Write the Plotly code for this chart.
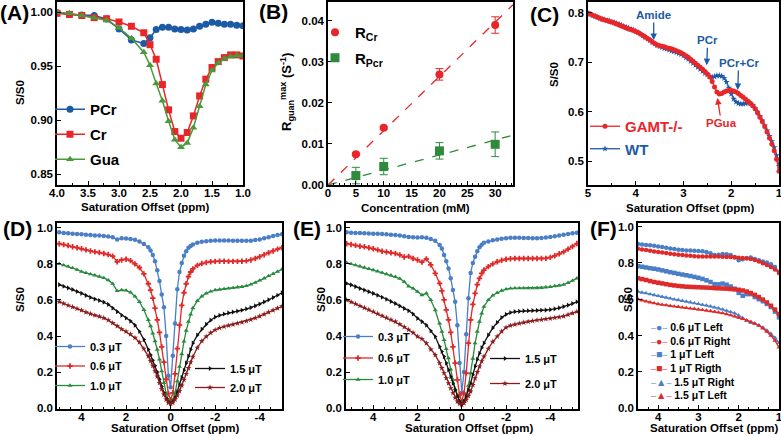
import plotly.graph_objects as go

W, H = 781, 436
FONT = "Arial, Liberation Sans, Helvetica, sans-serif"


def px(x):
    return x / W


def py(y):
    return 1 - y / H


# ---------------- colours ----------------
BLUE_DK = "#1c5aa6"
RED = "#e8262a"
GREEN_A = "#4a9a3a"
GREEN_B = "#2e8b3e"
BLUE_LT = "#4a7fc6"
RED_D = "#e02a2a"
GREEN_D = "#2a8a3e"
BLACK = "#111111"
DKRED = "#8b1c1c"

# ---------------- Panel A ----------------
a_x = [4.0, 3.8, 3.6, 3.4, 3.2, 3.0, 2.8, 2.6, 2.5, 2.4, 2.3, 2.2, 2.1, 2.0, 1.9, 1.8, 1.7, 1.6, 1.5, 1.4, 1.3, 1.2, 1.1, 1.0]
a_pcr = [0.9995, 0.998, 0.9975, 0.997, 0.9938, 0.9846, 0.9744, 0.971, 0.9765, 0.984, 0.986, 0.986, 0.9846, 0.984, 0.9836, 0.9846, 0.987, 0.989, 0.9907, 0.9898, 0.989, 0.989, 0.988, 0.9875]
a_cr = [0.999, 0.998, 0.997, 0.995, 0.994, 0.991, 0.987, 0.981, 0.970, 0.9565, 0.933, 0.9096, 0.8895, 0.8833, 0.8886, 0.904, 0.9225, 0.938, 0.9488, 0.9543, 0.958, 0.9605, 0.9605, 0.9595]
a_gua = [1.0, 0.999, 0.997, 0.995, 0.9925, 0.9855, 0.976, 0.963, 0.951, 0.934, 0.918, 0.899, 0.882, 0.875, 0.879, 0.893, 0.913, 0.933, 0.946, 0.953, 0.957, 0.959, 0.960, 0.960]

# ---------------- Panel B ----------------
b_conc = [5, 10, 20, 30]
b_rcr = [0.0075, 0.0139, 0.0269, 0.0389]
b_rcr_err = [0.0003, 0.0003, 0.0014, 0.0020]
b_rpcr = [0.0023, 0.0045, 0.0083, 0.0099]
b_rpcr_err = [0.0020, 0.0020, 0.0020, 0.0030]
b_fit_x = [0, 33.2]

# ---------------- Panel C ----------------
c_x = [5.0, 4.95, 4.9, 4.85, 4.8, 4.75, 4.7, 4.65, 4.6, 4.55, 4.5, 4.45, 4.4, 4.35, 4.3, 4.25, 4.2, 4.15, 4.1, 4.05,
       4.0, 3.95, 3.9, 3.85, 3.8, 3.75, 3.7, 3.65, 3.6, 3.55, 3.5, 3.45, 3.4, 3.35, 3.3, 3.25, 3.2, 3.15, 3.1, 3.05,
       3.0, 2.95, 2.9, 2.85, 2.8, 2.75, 2.7, 2.65, 2.6, 2.55, 2.5, 2.45, 2.4, 2.35, 2.3, 2.25, 2.2, 2.15, 2.1, 2.05,
       2.0, 1.95, 1.9, 1.85, 1.8, 1.75, 1.7, 1.65, 1.6, 1.55, 1.5, 1.45, 1.4, 1.35, 1.3, 1.25, 1.2, 1.15, 1.1, 1.05, 1.0]
c_gamt = [0.799, 0.797, 0.795, 0.793, 0.791, 0.789, 0.787, 0.785, 0.784, 0.782, 0.781, 0.779, 0.777, 0.775, 0.773, 0.771, 0.769, 0.767, 0.766, 0.764,
          0.762, 0.760, 0.757, 0.754, 0.751, 0.748, 0.745, 0.741, 0.738, 0.735, 0.733, 0.732, 0.731, 0.729, 0.728, 0.727, 0.725, 0.723, 0.721, 0.719,
          0.716, 0.713, 0.710, 0.706, 0.702, 0.698, 0.694, 0.690, 0.686, 0.681, 0.676, 0.670, 0.661, 0.650, 0.640, 0.636, 0.637, 0.640, 0.642, 0.643,
          0.643, 0.642, 0.640, 0.637, 0.633, 0.629, 0.625, 0.621, 0.617, 0.612, 0.606, 0.598, 0.589, 0.580, 0.570, 0.559, 0.547, 0.535, 0.521, 0.504, 0.480]
c_wt = [0.799, 0.797, 0.795, 0.793, 0.791, 0.789, 0.787, 0.786, 0.784, 0.783, 0.781, 0.780, 0.778, 0.777, 0.775, 0.773, 0.771, 0.769, 0.767, 0.765,
        0.763, 0.760, 0.757, 0.754, 0.750, 0.747, 0.744, 0.740, 0.737, 0.734, 0.732, 0.730, 0.728, 0.727, 0.725, 0.723, 0.722, 0.720, 0.718, 0.716,
        0.713, 0.709, 0.706, 0.702, 0.698, 0.694, 0.690, 0.686, 0.682, 0.678, 0.675, 0.672, 0.670, 0.671, 0.673, 0.673, 0.672, 0.668, 0.660, 0.648,
        0.636, 0.626, 0.620, 0.617, 0.616, 0.616, 0.617, 0.618, 0.617, 0.613, 0.607, 0.600, 0.591, 0.582, 0.572, 0.562, 0.551, 0.540, 0.528, 0.512, 0.490]

# ---------------- Panel D ----------------
d_x = [5.0, 4.8, 4.6, 4.4, 4.2, 4.0, 3.8, 3.6, 3.4, 3.2, 3.0, 2.8, 2.6, 2.4, 2.2, 2.0, 1.8, 1.6, 1.4, 1.2,
       1.0, 0.9, 0.8, 0.7, 0.6, 0.5, 0.4, 0.3, 0.2, 0.1, 0.0, -0.1, -0.2, -0.3, -0.4, -0.5, -0.6, -0.7, -0.8, -0.9, -1.0,
       -1.2, -1.4, -1.6, -1.8, -2.0, -2.2, -2.4, -2.6, -2.8, -3.0, -3.2, -3.4, -3.6, -3.8, -4.0, -4.2, -4.4, -4.6, -4.8, -5.0]
d_03 = [0.975, 0.972, 0.970, 0.968, 0.966, 0.965, 0.962, 0.960, 0.958, 0.958, 0.955, 0.952, 0.948, 0.935, 0.942, 0.941, 0.938, 0.934, 0.925, 0.910,
        0.893, 0.875, 0.850, 0.815, 0.765, 0.705, 0.630, 0.560, 0.400, 0.180, 0.115, 0.290, 0.470, 0.660, 0.755, 0.805, 0.845, 0.870, 0.890, 0.900, 0.908,
        0.918, 0.923, 0.926, 0.928, 0.930, 0.930, 0.930, 0.930, 0.929, 0.929, 0.928, 0.928, 0.929, 0.932, 0.936, 0.942, 0.948, 0.955, 0.960, 0.965]
d_06 = [0.912, 0.907, 0.902, 0.895, 0.890, 0.884, 0.878, 0.872, 0.867, 0.863, 0.858, 0.852, 0.843, 0.812, 0.822, 0.826, 0.818, 0.800, 0.780, 0.745,
        0.690, 0.655, 0.610, 0.555, 0.490, 0.420, 0.340, 0.255, 0.160, 0.080, 0.045, 0.085, 0.190, 0.330, 0.460, 0.570, 0.640, 0.690, 0.730, 0.755, 0.772,
        0.792, 0.802, 0.808, 0.812, 0.814, 0.815, 0.815, 0.814, 0.814, 0.814, 0.815, 0.817, 0.822, 0.830, 0.840, 0.851, 0.862, 0.872, 0.882, 0.890]
d_10 = [0.800, 0.793, 0.786, 0.778, 0.768, 0.757, 0.750, 0.743, 0.737, 0.730, 0.722, 0.710, 0.690, 0.650, 0.655, 0.653, 0.642, 0.620, 0.590, 0.545,
        0.490, 0.455, 0.415, 0.372, 0.325, 0.270, 0.205, 0.140, 0.080, 0.045, 0.030, 0.045, 0.085, 0.150, 0.230, 0.300, 0.370, 0.430, 0.480, 0.520, 0.555,
        0.595, 0.620, 0.637, 0.647, 0.655, 0.658, 0.661, 0.664, 0.667, 0.670, 0.673, 0.678, 0.686, 0.696, 0.708, 0.720, 0.733, 0.745, 0.757, 0.770]
d_15 = [0.685, 0.676, 0.667, 0.658, 0.647, 0.637, 0.625, 0.614, 0.605, 0.597, 0.588, 0.575, 0.555, 0.535, 0.515, 0.500, 0.483, 0.460, 0.425, 0.380,
        0.325, 0.295, 0.265, 0.235, 0.200, 0.160, 0.120, 0.085, 0.055, 0.035, 0.028, 0.035, 0.055, 0.090, 0.130, 0.170, 0.210, 0.250, 0.288, 0.325, 0.360,
        0.405, 0.438, 0.465, 0.488, 0.505, 0.515, 0.522, 0.528, 0.533, 0.538, 0.543, 0.550, 0.558, 0.567, 0.577, 0.589, 0.601, 0.613, 0.626, 0.640]
d_20 = [0.590, 0.580, 0.570, 0.561, 0.552, 0.543, 0.532, 0.523, 0.515, 0.508, 0.500, 0.488, 0.472, 0.455, 0.438, 0.425, 0.410, 0.390, 0.365, 0.330,
        0.288, 0.262, 0.235, 0.205, 0.175, 0.140, 0.105, 0.075, 0.048, 0.030, 0.024, 0.030, 0.048, 0.070, 0.095, 0.125, 0.157, 0.190, 0.222, 0.255, 0.285,
        0.335, 0.372, 0.397, 0.418, 0.434, 0.445, 0.452, 0.458, 0.464, 0.470, 0.476, 0.483, 0.491, 0.500, 0.510, 0.521, 0.532, 0.543, 0.554, 0.565]

# ---------------- Panel E ----------------
e_x = [5.2, 5.0, 4.8, 4.6, 4.4, 4.2, 4.0, 3.8, 3.6, 3.4, 3.2, 3.0, 2.8, 2.6, 2.4, 2.2, 2.0, 1.8, 1.6, 1.4, 1.2,
       1.0, 0.9, 0.8, 0.7, 0.6, 0.5, 0.4, 0.3, 0.2, 0.1, 0.0, -0.1, -0.2, -0.3, -0.4, -0.5, -0.6, -0.7, -0.8, -0.9, -1.0,
       -1.2, -1.4, -1.6, -1.8, -2.0, -2.2, -2.4, -2.6, -2.8, -3.0, -3.2, -3.4, -3.6, -3.8, -4.0, -4.2, -4.4, -4.6, -4.8, -5.0, -5.2]
e_03 = [0.975, 0.973, 0.972, 0.971, 0.970, 0.969, 0.968, 0.967, 0.966, 0.965, 0.962, 0.960, 0.957, 0.953, 0.950, 0.948, 0.946, 0.948, 0.945, 0.938, 0.928,
        0.905, 0.885, 0.850, 0.815, 0.775, 0.720, 0.655, 0.590, 0.460, 0.250, 0.085, 0.200, 0.410, 0.610, 0.750, 0.805, 0.840, 0.870, 0.893, 0.907, 0.917,
        0.925, 0.931, 0.936, 0.940, 0.943, 0.945, 0.945, 0.945, 0.944, 0.944, 0.943, 0.943, 0.944, 0.946, 0.949, 0.953, 0.957, 0.962, 0.966, 0.970, 0.973]
e_06 = [0.912, 0.908, 0.903, 0.898, 0.895, 0.890, 0.884, 0.878, 0.870, 0.866, 0.862, 0.858, 0.850, 0.838, 0.842, 0.830, 0.822, 0.810, 0.828, 0.795, 0.748,
        0.692, 0.650, 0.600, 0.545, 0.490, 0.420, 0.340, 0.250, 0.157, 0.074, 0.037, 0.083, 0.194, 0.360, 0.489, 0.575, 0.637, 0.685, 0.720, 0.747, 0.766,
        0.785, 0.800, 0.812, 0.820, 0.826, 0.829, 0.830, 0.830, 0.830, 0.830, 0.830, 0.830, 0.830, 0.831, 0.836, 0.845, 0.856, 0.867, 0.882, 0.897, 0.913]
e_10 = [0.806, 0.800, 0.793, 0.787, 0.780, 0.773, 0.766, 0.759, 0.751, 0.744, 0.737, 0.729, 0.718, 0.701, 0.676, 0.664, 0.646, 0.627, 0.637, 0.600, 0.544,
        0.470, 0.425, 0.378, 0.328, 0.277, 0.215, 0.157, 0.105, 0.065, 0.040, 0.028, 0.040, 0.065, 0.125, 0.194, 0.275, 0.360, 0.425, 0.480, 0.525, 0.563,
        0.600, 0.625, 0.640, 0.652, 0.660, 0.664, 0.665, 0.665, 0.665, 0.665, 0.665, 0.666, 0.667, 0.670, 0.673, 0.677, 0.680, 0.685, 0.695, 0.707, 0.720]
e_15 = [0.692, 0.684, 0.674, 0.664, 0.655, 0.646, 0.637, 0.626, 0.615, 0.604, 0.592, 0.581, 0.567, 0.553, 0.540, 0.522, 0.498, 0.480, 0.460, 0.428, 0.397,
        0.341, 0.314, 0.286, 0.250, 0.212, 0.175, 0.138, 0.100, 0.065, 0.038, 0.024, 0.038, 0.065, 0.100, 0.138, 0.185, 0.231, 0.270, 0.304, 0.335, 0.360,
        0.405, 0.445, 0.475, 0.502, 0.520, 0.530, 0.535, 0.537, 0.539, 0.540, 0.541, 0.542, 0.543, 0.544, 0.546, 0.551, 0.556, 0.563, 0.571, 0.580, 0.590]
e_20 = [0.600, 0.589, 0.578, 0.567, 0.557, 0.546, 0.535, 0.524, 0.512, 0.502, 0.491, 0.480, 0.465, 0.450, 0.435, 0.418, 0.397, 0.384, 0.360, 0.325, 0.295,
        0.249, 0.222, 0.194, 0.166, 0.138, 0.110, 0.083, 0.058, 0.037, 0.024, 0.018, 0.028, 0.046, 0.068, 0.092, 0.128, 0.166, 0.200, 0.231, 0.260, 0.286,
        0.330, 0.368, 0.398, 0.425, 0.447, 0.458, 0.464, 0.470, 0.475, 0.480, 0.484, 0.488, 0.491, 0.494, 0.497, 0.501, 0.505, 0.510, 0.518, 0.526, 0.535]

# ---------------- Panel F ----------------
f_x = [4.5, 4.4, 4.3, 4.2, 4.1, 4.0, 3.9, 3.8, 3.7, 3.6, 3.5, 3.4, 3.3, 3.2, 3.1, 3.0, 2.9, 2.8, 2.7, 2.6,
       2.5, 2.4, 2.3, 2.2, 2.1, 2.0, 1.9, 1.8, 1.7, 1.6, 1.5, 1.4, 1.3, 1.2, 1.1, 1.0]
f_06_left = [0.904, 0.902, 0.899, 0.897, 0.894, 0.891, 0.888, 0.884, 0.880, 0.877, 0.873, 0.871, 0.869, 0.868, 0.867, 0.866, 0.864, 0.860, 0.853, 0.843,
             0.845, 0.849, 0.848, 0.843, 0.833, 0.815, 0.820, 0.827, 0.830, 0.822, 0.815, 0.808, 0.802, 0.793, 0.778, 0.752]
f_06_right = [0.878, 0.874, 0.871, 0.867, 0.863, 0.860, 0.857, 0.854, 0.851, 0.848, 0.845, 0.843, 0.841, 0.839, 0.837, 0.836, 0.836, 0.836, 0.836, 0.836,
              0.835, 0.834, 0.833, 0.832, 0.830, 0.829, 0.827, 0.825, 0.822, 0.816, 0.808, 0.798, 0.788, 0.777, 0.764, 0.745]
f_1_left = [0.782, 0.779, 0.775, 0.771, 0.768, 0.764, 0.759, 0.754, 0.749, 0.745, 0.740, 0.736, 0.732, 0.728, 0.723, 0.718, 0.712, 0.704, 0.695, 0.683,
            0.682, 0.686, 0.680, 0.670, 0.658, 0.635, 0.619, 0.628, 0.628, 0.612, 0.600, 0.589, 0.574, 0.557, 0.532, 0.500]
f_1_right = [0.715, 0.711, 0.706, 0.700, 0.695, 0.691, 0.687, 0.683, 0.679, 0.676, 0.673, 0.671, 0.669, 0.668, 0.667, 0.666, 0.665, 0.664, 0.663, 0.661,
             0.660, 0.659, 0.658, 0.656, 0.654, 0.652, 0.648, 0.642, 0.634, 0.624, 0.612, 0.598, 0.582, 0.564, 0.543, 0.518]
f_15_right = [0.642, 0.637, 0.633, 0.628, 0.623, 0.618, 0.613, 0.609, 0.604, 0.599, 0.595, 0.591, 0.587, 0.583, 0.578, 0.574, 0.570, 0.566, 0.561, 0.555,
              0.550, 0.544, 0.537, 0.530, 0.522, 0.510, 0.496, 0.480, 0.470, 0.465, 0.456, 0.444, 0.428, 0.410, 0.388, 0.360]
f_15_left = [0.600, 0.594, 0.588, 0.583, 0.578, 0.573, 0.570, 0.567, 0.563, 0.560, 0.558, 0.555, 0.552, 0.549, 0.547, 0.544, 0.541, 0.538, 0.535, 0.531,
             0.527, 0.523, 0.518, 0.512, 0.505, 0.498, 0.491, 0.484, 0.476, 0.466, 0.454, 0.440, 0.422, 0.400, 0.372, 0.335]

# tick labels
de_tickvals = [4, 2, 0, -2, -4]
de_ticktext = ["4", "2", "0", "-2", "-4"]
c_tickvals = [5, 4, 3, 2, 1]
f_tickvals = [4, 3, 2, 1]

fig = go.Figure()


def line_trace(x, y, name, color, symbol, size, xa, ya, legend=None, lw=1.3, show=True, group=None):
    return go.Scatter(
        x=x, y=y, name=name, mode="lines+markers",
        line=dict(color=color, width=lw),
        marker=dict(color=color, symbol=symbol, size=size, line=dict(width=0)),
        xaxis=xa, yaxis=ya, legend=legend, showlegend=show,
        legendgroup=group or name,
    )


# Panel A
fig.add_trace(line_trace(a_x, a_pcr, "PCr", BLUE_DK, "circle", 7, "x", "y", "legend", lw=1.5))
fig.add_trace(line_trace(a_x, a_cr, "Cr", RED, "square", 7, "x", "y", "legend", lw=1.5))
fig.add_trace(line_trace(a_x, a_gua, "Gua", GREEN_A, "triangle-up", 7, "x", "y", "legend", lw=1.5))

# Panel B
s_cr = sum(c * r for c, r in zip(b_conc, b_rcr)) / sum(c * c for c in b_conc)
s_pcr = sum(c * r for c, r in zip(b_conc, b_rpcr)) / sum(c * c for c in b_conc)
fig.add_trace(go.Scatter(x=b_fit_x, y=[s_cr * v for v in b_fit_x], mode="lines",
                         line=dict(color=RED, width=1.3, dash="dash"), xaxis="x2", yaxis="y2", showlegend=False))
fig.add_trace(go.Scatter(x=b_fit_x, y=[s_pcr * v for v in b_fit_x], mode="lines",
                         line=dict(color=GREEN_B, width=1.3, dash="dash"), xaxis="x2", yaxis="y2", showlegend=False))
fig.add_trace(go.Scatter(x=b_conc, y=b_rcr, name="R<sub>Cr</sub>", mode="markers",
                         marker=dict(color=RED, symbol="circle", size=8),
                         error_y=dict(type="data", array=b_rcr_err, color=RED, thickness=1, width=4),
                         xaxis="x2", yaxis="y2", legend="legend2", legendgroup="rcr"))
fig.add_trace(go.Scatter(x=b_conc, y=b_rpcr, name="R<sub>Pcr</sub>", mode="markers",
                         marker=dict(color=GREEN_B, symbol="square", size=9),
                         error_y=dict(type="data", array=b_rpcr_err, color=GREEN_B, thickness=1, width=4),
                         xaxis="x2", yaxis="y2", legend="legend2", legendgroup="rpcr"))

# Panel C
fig.add_trace(line_trace(c_x, c_wt, "<span style='color:%s'>WT</span>" % BLUE_DK, BLUE_DK, "star", 5, "x3", "y3", "legend3", lw=1.3, group="wt"))
fig.add_trace(line_trace(c_x, c_gamt, "<span style='color:%s'>GAMT-/-</span>" % RED, RED, "circle", 5, "x3", "y3", "legend3", lw=1.3, group="gamt"))

# Panel D
fig.add_trace(line_trace(d_x, d_03, "0.3 μT", BLUE_LT, "circle", 4.5, "x4", "y4", "legend4"))
fig.add_trace(line_trace(d_x, d_06, "0.6 μT", RED_D, "cross", 4.5, "x4", "y4", "legend4"))
fig.add_trace(line_trace(d_x, d_10, "1.0 μT", GREEN_D, "triangle-up", 4.5, "x4", "y4", "legend4"))
fig.add_trace(line_trace(d_x, d_15, "1.5 μT", BLACK, "triangle-right", 4.5, "x4", "y4", "legend5"))
fig.add_trace(line_trace(d_x, d_20, "2.0 μT", DKRED, "star", 4.5, "x4", "y4", "legend5"))

# Panel E
fig.add_trace(line_trace(e_x, e_03, "0.3 μT", BLUE_LT, "circle", 4.5, "x5", "y5", "legend6", group="e03"))
fig.add_trace(line_trace(e_x, e_06, "0.6 μT", RED_D, "cross", 4.5, "x5", "y5", "legend6", group="e06"))
fig.add_trace(line_trace(e_x, e_10, "1.0 μT", GREEN_D, "triangle-up", 4.5, "x5", "y5", "legend6", group="e10"))
fig.add_trace(line_trace(e_x, e_15, "1.5 μT", BLACK, "triangle-right", 4.5, "x5", "y5", "legend7", group="e15"))
fig.add_trace(line_trace(e_x, e_20, "2.0 μT", DKRED, "star", 4.5, "x5", "y5", "legend7", group="e20"))

# Panel F
f_series = [
    (f_06_left, "0.6 μT Left", BLUE_LT, "circle"),
    (f_06_right, "0.6 μT Right", RED_D, "circle"),
    (f_1_left, "1 μT Left", BLUE_LT, "square"),
    (f_1_right, "1 μT Rigth", RED_D, "square"),
    (f_15_right, "1.5 μT Right", BLUE_LT, "triangle-up"),
    (f_15_left, "1.5 μT Left", RED_D, "triangle-up"),
]
for ys, nm, col, sym in f_series:
    fig.add_trace(line_trace(f_x, ys, nm, col, sym, 4.5, "x6", "y6", None, show=False, group="f" + nm))


def ax(domain, rng, anchor, **kw):
    d = dict(domain=domain, range=rng, anchor=anchor, automargin=False,
             showline=True, linewidth=1.5, linecolor="black", mirror=True,
             ticks="inside", ticklen=4, tickwidth=1, tickcolor="black",
             showgrid=False, zeroline=False, ticklabeloverflow="allow",
             tickfont=dict(family=FONT, size=11.5, color="black", weight="bold"))
    d.update(kw)
    return d


def xax(domain, rng, anchor, **kw):
    return ax(domain, rng, anchor, ticklabelstandoff=-4, **kw)


def minor(dt):
    return dict(ticks="inside", ticklen=2, dtick=dt, tickcolor="black", tickwidth=1, showgrid=False)


yA = [py(185), py(2)]
yD = [py(409), py(223)]

layout = dict(
    template="none",
    width=W, height=H, margin=dict(l=0, r=0, t=0, b=0, autoexpand=False),
    paper_bgcolor="white", plot_bgcolor="white",
    font=dict(family=FONT, color="black"),
    xaxis=xax([px(57), px(243)], [4.0, 1.0], "y", dtick=0.5, tickformat=".1f", minor=minor(0.25)),
    yaxis=ax(yA, [0.840, 1.0095], "x", dtick=0.05, tickformat=".2f"),
    xaxis2=xax([px(328), px(513)], [0, 33.2], "y2", dtick=5, minor=minor(1)),
    yaxis2=ax(yA, [0, 0.0445], "x2", dtick=0.01, tickformat=".2f"),
    xaxis3=xax([px(588), px(779)], [5, 1], "y3", tickvals=c_tickvals, minor=minor(0.5)),
    yaxis3=ax(yA, [0.452, 0.8216], "x3", dtick=0.1, tickformat=".1f"),
    xaxis4=xax([px(57), px(282)], [5.1, -5.0], "y4", tickvals=de_tickvals, ticktext=de_ticktext, minor=minor(0.5)),
    yaxis4=ax(yD, [-0.005, 1.027], "x4", dtick=0.2, tickformat=".1f"),
    xaxis5=xax([px(346), px(578)], [5.23, -5.25], "y5", tickvals=de_tickvals, ticktext=de_ticktext, minor=minor(0.5)),
    yaxis5=ax(yD, [-0.005, 1.027], "x5", dtick=0.2, tickformat=".1f"),
    xaxis6=xax([px(638), px(779)], [4.5, 1.0], "y6", tickvals=f_tickvals, minor=minor(0.25)),
    yaxis6=ax(yD, [-0.005, 1.02], "x6", dtick=0.2, tickformat=".1f"),
)


def leg(x, y, size, gap):
    return dict(x=px(x), y=py(y), xanchor="left", yanchor="top", bgcolor="rgba(0,0,0,0)",
                borderwidth=0, tracegroupgap=gap, itemwidth=30,
                font=dict(family=FONT, size=size, color="black", weight="bold"))


layout["legend"] = leg(50, 93, 15, 2.5)
layout["legend2"] = leg(315, 16, 15, 3)
layout["legend3"] = leg(585, 110, 15, 12)
layout["legend4"] = leg(50, 332, 11, 0.5)
layout["legend5"] = leg(190, 354, 11, 0)
layout["legend6"] = leg(338, 322, 11, 2.5)
layout["legend7"] = leg(485, 344, 11, 6)
layout["legend3"]["traceorder"] = "reversed"
fig.update_layout(**layout)

ann = []


def text_ann(x, y, text, size=11.5, angle=0, color="black"):
    ann.append(dict(x=px(x), y=py(y), xref="paper", yref="paper", text=text, showarrow=False,
                    textangle=angle, xanchor="center", yanchor="middle",
                    font=dict(family=FONT, size=size, color=color, weight="bold")))


# panel labels
for lab, x, y in [("(A)", 14, 12), ("(B)", 273, 11), ("(C)", 544, 15), ("(D)", 17, 228), ("(E)", 307, 228), ("(F)", 603, 228)]:
    text_ann(x, y, lab, size=21)

# axis titles
text_ann(145, 207, "Saturation Offset (ppm)")
text_ann(415, 208, "Concentration (mM)")
text_ann(690, 208, "Saturation Offset (ppm)")
text_ann(175, 428, "Saturation Offset (ppm)")
text_ann(469, 428, "Saturation Offset (ppm)")
text_ann(714, 428, "Saturation Offset (ppm)")
text_ann(20, 93, "S/S0", angle=-90)
text_ann(554, 75, "S/S0", angle=-90)
text_ann(20, 300, "S/S0", angle=-90)
text_ann(321, 300, "S/S0", angle=-90)
text_ann(628, 300, "S/S0", angle=-90)
text_ann(287, 92, "R<sub>guan</sub><sup>max</sup> (S<sup>-1</sup>)", size=13, angle=-90)

# panel C arrows
for (xv, yv, txt, col, axv, ayv) in [
    (3.624, 0.745, "Amide", BLUE_DK, 0, -25),
    (2.514, 0.694, "PCr", BLUE_DK, 1, -25),
    (1.865, 0.644, "PCr+Cr", BLUE_DK, 1, -27),
    (2.29, 0.6277, "PGua", RED, 4, 25),
]:
    ann.append(dict(x=xv, y=yv, xref="x3", yref="y3", text=txt, showarrow=True,
                    arrowhead=2, arrowsize=1, arrowwidth=1.3, arrowcolor=col, ax=axv, ay=ayv,
                    standoff=0, font=dict(family=FONT, size=11.5, color=col, weight="bold")))

# panel F legend (text based, compact like the original)
f_leg_sym = {"circle": "●", "square": "■", "triangle-up": "▲"}
f_lines = ["<span style='color:%s'><span style='font-size:7px'>─</span>%s<span style='font-size:7px'>─</span></span> %s"
           % (col, f_leg_sym[sym], nm) for _, nm, col, sym in f_series]
ann.append(dict(x=px(648), y=py(319), xref="paper", yref="paper", text="<br>".join(f_lines),
                showarrow=False, xanchor="left", yanchor="top", align="left",
                font=dict(family=FONT, size=10.5, color="black", weight="bold")))

fig.update_layout(annotations=ann)
fig.write_html("out.html", config={"displayModeBar": False},
               post_script="document.body.style.margin='0';document.body.style.overflow='hidden';")
